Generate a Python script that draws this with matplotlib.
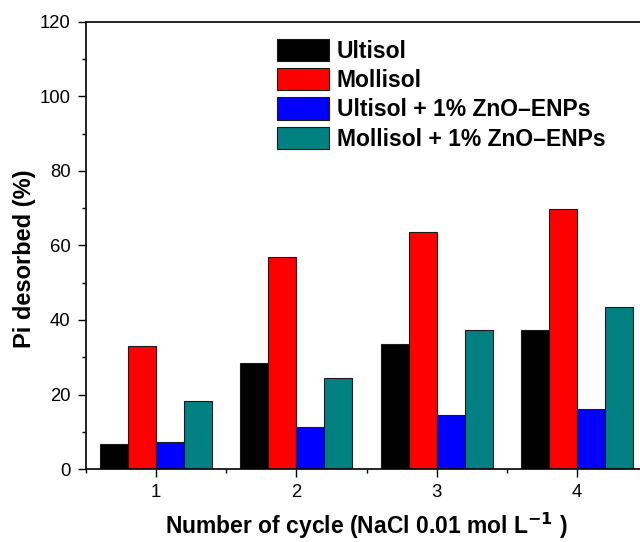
import numpy as np
import matplotlib
matplotlib.use("Agg")
import matplotlib.pyplot as plt
from matplotlib.ticker import MultipleLocator

plt.rcParams["font.family"] = ["Liberation Sans", "DejaVu Sans"]

cycles = [1, 2, 3, 4]
series_names = ["Ultisol", "Mollisol", "Ultisol + 1% ZnO\u2013ENPs", "Mollisol + 1% ZnO\u2013ENPs"]
ultisol = [6.8, 28.4, 33.5, 37.3]
mollisol = [32.9, 56.9, 63.5, 69.7]
ultisol_zno = [7.3, 11.3, 14.4, 16.0]
mollisol_zno = [18.3, 24.5, 37.3, 43.4]
colors = ["#000000", "#ff0000", "#0000ff", "#008080"]

fig = plt.figure(figsize=(6.4, 5.42), dpi=100)
# right edge of the original plot is cropped, so the axes run past the figure
ax = fig.add_axes([86 / 640, 73 / 542, 561 / 640, 447 / 542])

x = np.array(cycles, dtype=float)
width = 0.2
offsets = [-0.3, -0.1, 0.1, 0.3]
for vals, name, col, off in zip([ultisol, mollisol, ultisol_zno, mollisol_zno],
                                series_names, colors, offsets):
    ax.bar(x + off, vals, width=width, color=col, edgecolor="#1a1a1a",
           linewidth=0.8, label=name)

ax.set_xlim(0.5, 4.5)
ax.set_ylim(0, 120)
ax.set_xticks(cycles)
ax.xaxis.set_minor_locator(MultipleLocator(0.5))
ax.yaxis.set_major_locator(MultipleLocator(20))
ax.yaxis.set_minor_locator(MultipleLocator(10))
ax.tick_params(which="both", direction="out", top=False, right=False,
               labelsize=13.3, width=1.0, pad=5)
ax.tick_params(which="major", length=6)
ax.tick_params(which="minor", length=3)
for s in ax.spines.values():
    s.set_linewidth(1.2)

ax.set_ylabel("Pi desorbed (%)", fontsize=17, fontweight="bold")
ax.yaxis.set_label_coords(-0.089, 0.47)
ax.set_xlabel("Number of cycle (NaCl 0.01 mol L$^{\\mathbf{-1}}$ )", fontsize=16.5,
              fontweight="bold", labelpad=7)

ax.legend(loc="upper left", bbox_to_anchor=(0.34, 0.963), frameon=False,
          prop={"size": 16.5, "weight": "bold"}, borderpad=0, borderaxespad=0,
          handlelength=2.27, handleheight=1.14, labelspacing=0.23,
          handletextpad=0.35)

fig.savefig("out.png", dpi=100)
